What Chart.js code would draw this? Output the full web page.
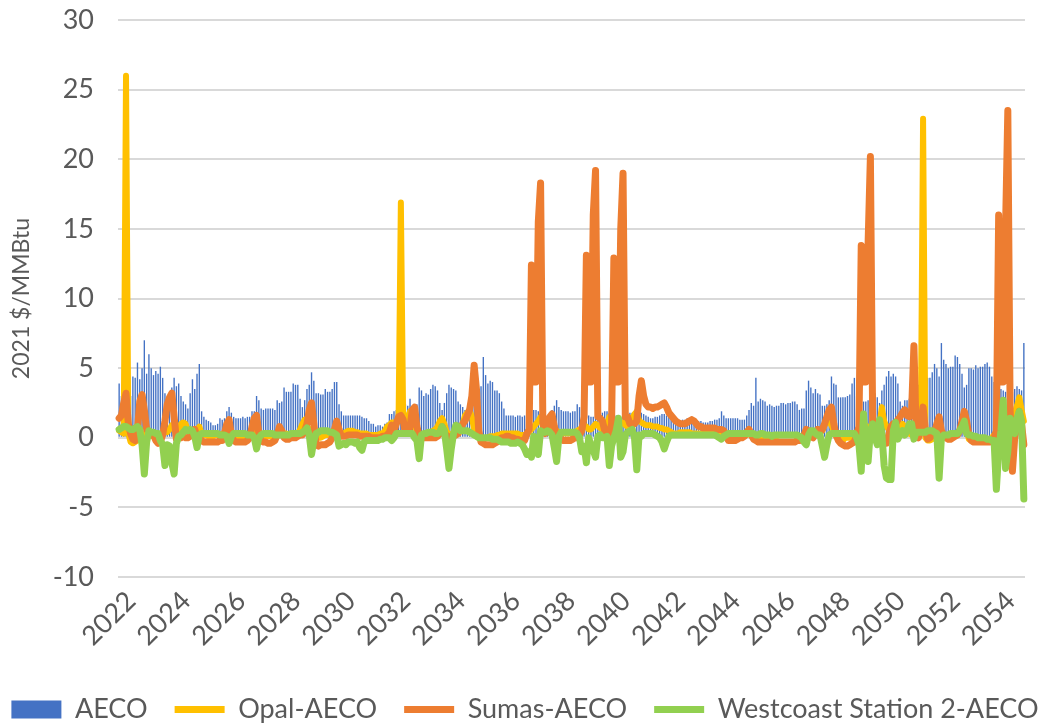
<!DOCTYPE html>
<html>
<head>
<meta charset="utf-8">
<title>AECO basis</title>
<script src="https://cdn.jsdelivr.net/npm/chart.js"></script>
<style>
  html, body { margin: 0; padding: 0; background: #fff; width: 1050px; height: 725px; overflow: hidden; }
  /* canvas is wider than the page so the one-row legend has room; it is pulled left by SIDE */
  canvas { display: block; margin-left: -60px; }
</style>
</head>
<body>
<canvas id="basisChart" width="1170" height="725"></canvas>
<script>
/* =========================
   DATA (monthly, Jan 2022 - Dec 2054)
========================= */
const years = [2022, 2023, 2024, 2025, 2026, 2027, 2028, 2029, 2030, 2031, 2032,
  2033, 2034, 2035, 2036, 2037, 2038, 2039, 2040, 2041, 2042, 2043, 2044, 2045,
  2046, 2047, 2048, 2049, 2050, 2051, 2052, 2053, 2054];
const months = ["01", "02", "03", "04", "05", "06", "07", "08", "09", "10", "11", "12"];
const tickYears = ["2022", "2024", "2026", "2028", "2030", "2032", "2034", "2036", "2038",
  "2040", "2042", "2044", "2046", "2048", "2050", "2052", "2054"];

const aeco = [
  3.9, 3.0, 2.6, 2.4, 2.6, 3.0, 4.4, 4.3, 5.4, 4.2, 5.0, 7.0,
  4.6, 6.0, 5.0, 4.5, 4.8, 4.6, 5.1, 4.3, 3.2, 2.9, 3.2, 3.6,
  4.3, 3.7, 3.9, 3.0, 2.6, 2.4, 2.1, 3.2, 4.2, 3.5, 4.6, 5.3,
  1.9, 1.5, 1.3, 1.2, 1.1, 0.9, 0.9, 1.0, 1.4, 1.3, 1.4, 1.9,
  2.2, 1.8, 1.5, 1.4, 1.4, 1.4, 1.5, 1.4, 1.5, 1.5, 1.9, 1.9,
  3.0, 2.7, 2.1, 2.0, 2.1, 2.1, 2.1, 2.1, 2.0, 2.7, 2.5, 2.6,
  3.6, 3.3, 3.3, 3.3, 3.9, 3.8, 3.8, 2.8, 2.2, 2.7, 3.5, 3.8,
  4.7, 4.1, 3.2, 3.2, 3.1, 3.1, 3.5, 3.3, 3.3, 3.5, 4.0, 4.0,
  2.4, 1.9, 1.6, 1.6, 1.6, 1.6, 1.6, 1.6, 1.6, 1.6, 1.5, 1.4,
  1.4, 1.2, 1.0, 1.0, 0.8, 0.9, 0.9, 0.8, 1.0, 1.1, 1.7, 1.7,
  1.9, 2.0, 2.0, 2.1, 2.2, 2.4, 2.3, 2.8, 2.3, 2.4, 2.4, 3.6,
  3.4, 3.0, 3.2, 3.1, 3.5, 3.8, 3.7, 3.4, 2.5, 2.0, 2.5, 3.2,
  3.8, 3.6, 3.5, 3.4, 2.6, 2.4, 2.2, 2.0, 2.0, 2.1, 2.4, 2.8,
  3.4, 3.4, 3.7, 5.8, 4.5, 3.9, 4.1, 4.0, 3.4, 3.4, 3.2, 2.6,
  2.1, 1.6, 1.6, 1.6, 1.6, 1.5, 1.6, 1.6, 1.5, 1.6, 1.7, 1.8,
  1.8, 2.0, 2.0, 1.9, 1.8, 1.8, 1.6, 1.6, 1.6, 2.0, 2.3, 2.7,
  2.2, 2.0, 1.9, 1.9, 1.9, 1.8, 1.9, 1.9, 2.4, 2.2, 2.0, 1.8,
  1.6, 1.6, 1.5, 1.5, 1.5, 1.6, 1.7, 1.8, 1.9, 1.9, 1.8, 1.7,
  1.6, 1.6, 1.5, 1.5, 1.6, 1.6, 1.7, 1.8, 1.8, 1.9, 1.9, 1.8,
  1.8, 1.7, 1.6, 1.5, 1.4, 1.4, 1.5, 1.5, 1.6, 1.7, 1.7, 1.6,
  1.5, 1.4, 1.3, 1.3, 1.3, 1.2, 1.3, 1.3, 1.4, 1.4, 1.5, 1.4,
  1.3, 1.2, 1.2, 1.1, 1.1, 1.1, 1.2, 1.2, 1.3, 1.3, 1.4, 1.9,
  1.6, 1.4, 1.4, 1.4, 1.4, 1.4, 1.4, 1.3, 1.3, 1.3, 1.6, 2.0,
  2.5, 2.3, 4.3, 2.6, 2.8, 2.7, 2.6, 2.3, 2.4, 2.3, 2.2, 2.3,
  2.3, 2.5, 2.5, 2.4, 2.5, 2.5, 2.6, 2.6, 2.4, 2.0, 2.1, 2.1,
  3.4, 4.1, 3.6, 3.2, 3.5, 3.2, 3.1, 2.3, 2.3, 2.4, 2.7, 4.4,
  3.9, 3.8, 2.9, 2.9, 2.9, 2.9, 3.0, 3.1, 3.9, 4.3, 3.0, 2.8,
  2.7, 2.6, 2.6, 2.7, 2.8, 3.0, 3.2, 2.9, 2.5, 3.4, 3.8, 4.4,
  4.8, 4.4, 4.6, 4.4, 3.9, 2.6, 2.3, 2.7, 2.7, 2.8, 3.0, 3.3,
  3.6, 3.8, 4.0, 4.1, 4.2, 4.3, 4.3, 4.7, 5.3, 5.0, 4.4, 6.8,
  5.6, 5.3, 5.0, 5.1, 5.1, 5.9, 5.8, 5.3, 4.6, 3.6, 3.8, 5.0,
  5.0, 4.9, 5.2, 5.0, 5.1, 5.1, 5.3, 5.4, 5.1, 4.4, 4.0, 3.8,
  3.6, 3.5, 3.4, 3.3, 3.2, 3.2, 3.3, 3.5, 3.7, 3.5, 3.4, 6.8
];

const opal = [
  0.5, 0.4, 0.3, 26.0, 0.3, -0.3, -0.4, -0.3, -0.2, 0.0, 0.2, 0.3,
  0.4, 0.3, 0.2, 0.1, 0.0, -0.1, 0.1, 0.3, 0.5, 0.4, 0.6, 0.9,
  0.6, 0.3, 0.4, 1.0, 1.1, 1.0, 0.5, 0.4, 0.3, 0.4, 0.6, 0.8,
  0.3, 0.2, 0.2, 0.1, 0.1, 0.1, 0.2, 0.2, 0.2, 0.3, 0.3, 0.3,
  0.4, 0.3, 0.2, 0.2, 0.1, 0.1, 0.1, 0.2, 0.2, 0.3, 0.4, 0.5,
  0.5, 0.3, 0.2, 0.1, 0.1, 0.1, 0.1, 0.1, 0.2, 0.3, 0.3, 0.3,
  0.3, 0.3, 0.2, 0.2, 0.2, 0.2, 0.3, 0.6, 1.0, 1.3, 0.9, 0.5,
  0.6, 0.4, 0.1, 0.0, 0.0, 0.1, 0.2, 0.2, 0.3, 0.4, 0.5, 0.4,
  0.4, 0.3, 0.3, 0.4, 0.5, 0.5, 0.5, 0.4, 0.4, 0.3, 0.3, 0.3,
  0.3, 0.2, 0.2, 0.2, 0.2, 0.2, 0.3, 0.3, 0.5, 0.8, 0.9, 1.1,
  1.1, 1.0, 1.3, 16.9, 1.3, 0.8, 1.5, 1.9, 1.8, 0.9, 0.4, 0.3,
  0.2, 0.3, 0.3, 0.4, 0.4, 0.5, 0.6, 0.8, 1.2, 1.4, 1.0, 0.4,
  0.3, 0.2, 0.3, 0.3, 0.5, 0.7, 1.0, 1.6, 1.8, 2.0, 1.5, 0.6,
  0.1, 0.0, -0.1, -0.1, 0.0, 0.0, 0.1, 0.1, 0.1, 0.2, 0.2, 0.3,
  0.3, 0.3, 0.3, 0.3, 0.3, 0.3, 0.3, 0.2, 0.2, 0.2, 0.3, 0.4,
  0.6, 0.8, 1.0, 1.2, 1.5, 1.0, 0.6, 0.5, 0.4, 0.7, 0.7, 0.5,
  0.4, 0.3, 0.3, 0.3, 0.3, 0.3, 0.4, 0.4, 0.5, 0.6, 0.7, 0.9,
  0.8, 0.6, 0.6, 0.8, 1.0, 0.9, 0.7, 0.6, 0.7, 1.0, 1.5, 1.2,
  0.9, 0.8, 0.9, 1.0, 1.1, 0.9, 0.8, 1.0, 1.4, 1.7, 1.9, 1.2,
  1.1, 1.0, 0.9, 0.9, 0.9, 0.8, 0.8, 0.8, 0.7, 0.7, 0.6, 0.6,
  0.5, 0.4, 0.3, 0.3, 0.3, 0.4, 0.4, 0.4, 0.4, 0.4, 0.3, 0.3,
  0.3, 0.3, 0.3, 0.3, 0.3, 0.3, 0.3, 0.3, 0.3, 0.3, 0.3, 0.3,
  0.2, 0.1, 0.0, 0.0, 0.1, 0.2, 0.2, 0.2, 0.2, 0.2, 0.2, 0.3,
  0.3, 0.2, 0.2, 0.1, 0.1, 0.1, 0.1, 0.0, 0.0, -0.1, -0.2, -0.2,
  -0.3, -0.3, -0.3, -0.3, -0.3, -0.3, -0.3, -0.3, -0.2, -0.2, 0.0, 0.2,
  0.3, 0.2, 0.1, 0.1, 0.2, 0.3, 0.4, 0.5, 0.9, 1.4, 1.2, 0.9,
  0.5, 0.1, 0.0, -0.1, -0.2, 0.0, 0.0, 0.0, 0.1, 0.2, 0.4, 0.5,
  0.8, 1.0, 0.9, 0.7, 0.6, 0.5, 0.6, 0.8, 1.0, 2.2, 1.2, 0.8,
  0.6, 0.5, 0.4, 0.4, 0.6, 0.9, 1.0, 0.8, 0.5, 0.3, 0.2, 0.3,
  0.2, 0.3, 0.5, 22.9, 0.0, -0.2, -0.2, -0.1, 0.0, 0.1, 0.2, 0.2,
  0.1, 0.0, -0.1, 0.0, 0.1, 0.2, 0.3, 0.6, 1.0, 1.2, 0.5, -0.1,
  -0.2, -0.3, -0.3, -0.3, -0.3, -0.3, -0.3, -0.3, -0.2, 0.0, 0.2, 0.4,
  0.5, 0.6, 0.8, 1.0, 1.2, 1.3, 1.5, 1.8, 2.3, 2.9, 2.0, 1.2
];

const sumas = [
  1.4, 1.6, 2.5, 3.2, 1.0, 0.3, -0.1, -0.2, 0.6, 2.6, 3.1, 2.0,
  0.6, 0.4, 0.2, 0.2, -0.2, -0.4, -0.3, 0.2, 1.2, 2.4, 2.9, 3.2,
  1.5, -0.1, 0.0, 0.0, 0.1, 0.0, 0.0, 0.1, 0.3, 0.6, 0.1, 0.0,
  -0.2, -0.3, -0.3, -0.3, -0.3, -0.3, -0.3, -0.3, -0.2, -0.2, 0.3, 1.0,
  1.3, 0.2, -0.2, -0.3, -0.3, -0.3, -0.3, -0.3, -0.2, 0.0, 0.8, 1.4,
  1.6, 0.3, -0.2, -0.3, -0.3, -0.4, -0.4, -0.3, -0.2, 0.2, 0.8, 0.5,
  0.0, -0.1, -0.1, 0.0, 0.0, 0.0, 0.1, 0.2, 0.2, 0.5, 1.0, 2.0,
  2.5, 1.0, -0.5, -0.6, -0.5, -0.5, -0.5, -0.4, -0.3, 0.0, 0.6, 1.2,
  0.6, 0.1, 0.1, 0.1, 0.2, 0.2, 0.2, 0.2, 0.2, 0.1, 0.1, 0.1,
  0.1, 0.1, 0.0, 0.0, 0.0, 0.0, 0.0, 0.1, 0.1, 0.2, 0.4, 0.9,
  0.5, 1.0, 1.5, 1.6, 1.3, 0.3, 0.3, 0.8, 2.0, 2.2, 0.8, 0.1,
  0.0, 0.0, 0.0, 0.0, 0.0, 0.0, 0.0, 0.1, 0.3, 0.8, 0.4, 0.1,
  0.0, 0.1, 0.1, 0.2, 0.3, 0.6, 1.0, 1.2, 1.6, 2.0, 3.0, 5.2,
  3.5, 0.5, -0.3, -0.4, -0.5, -0.5, -0.5, -0.5, -0.4, -0.3, -0.1, 0.0,
  0.0, 0.1, 0.1, 0.0, 0.0, -0.1, -0.1, -0.2, -0.2, -0.2, 0.3, 0.6,
  12.4, 4.0, 4.0, 15.5, 18.3, 1.0, 0.3, 0.8, 1.5, 1.7, 0.8, 0.1,
  0.0, -0.1, -0.2, -0.2, -0.2, -0.2, -0.1, 0.0, 0.0, 0.2, 0.5, 1.5,
  13.1, 4.0, 4.0, 16.0, 19.2, 1.5, 1.4, 1.2, 0.5, 0.2, 0.3, 1.0,
  12.9, 4.0, 4.0, 15.0, 19.0, 1.5, 1.5, 1.0, 1.0, 1.0, 1.2, 3.0,
  4.1, 3.0, 2.4, 2.2, 2.2, 2.1, 2.2, 2.2, 2.3, 2.4, 2.5, 2.2,
  1.8, 1.6, 1.4, 1.2, 1.1, 1.0, 1.0, 1.0, 1.1, 1.2, 1.3, 1.2,
  1.0, 0.8, 0.8, 0.7, 0.7, 0.7, 0.7, 0.7, 0.7, 0.6, 0.6, 0.6,
  0.5, 0.2, -0.2, -0.2, -0.2, -0.2, -0.1, 0.0, 0.0, 0.1, 0.4, 0.6,
  0.2, -0.1, -0.2, -0.3, -0.3, -0.3, -0.3, -0.3, -0.3, -0.3, -0.3, -0.3,
  -0.3, -0.3, -0.3, -0.3, -0.3, -0.3, -0.3, -0.3, -0.2, -0.2, -0.1, 0.2,
  0.6, 0.5, 0.1, 0.0, 0.3, 0.6, 0.4, 0.6, 1.0, 1.5, 2.0, 2.2,
  1.0, 0.2, -0.2, -0.4, -0.5, -0.6, -0.6, -0.5, -0.4, -0.3, 0.2, 0.8,
  13.8, 4.0, 4.0, 14.0, 20.2, 1.0, 0.5, 0.0, -0.2, -0.3, -0.4, -0.4,
  0.2, 0.8, 1.0, 1.0, 1.3, 1.5, 1.8, 2.0, 1.6, 1.5, 2.0, 6.6,
  0.3, 0.0, 1.0, 2.2, 0.5, -0.1, 0.0, 0.2, 0.4, 1.0, 1.5, 0.5,
  0.2, 0.0, -0.1, -0.1, 0.0, 0.1, 0.2, 0.5, 1.2, 1.9, 1.2, 0.2,
  -0.2, -0.3, -0.3, -0.3, -0.3, -0.3, -0.3, -0.3, -0.3, -0.2, 0.0, 0.5,
  16.0, 4.0, 4.0, 15.0, 23.5, 2.0, -2.4, 0.0, 1.0, 1.9, 1.0, -0.5
];

const westcoast = [
  0.6, 0.7, 0.8, 0.8, 0.7, 0.6, 0.6, 0.7, 0.8, 0.6, -0.5, -2.6,
  -0.3, 0.5, 0.4, 0.4, 0.3, 0.3, -0.2, -0.5, -2.0, -0.5, -0.6, -1.8,
  -2.6, -0.4, 0.1, 0.2, 0.4, 0.6, 0.5, 0.6, 0.5, 0.1, -0.7, 0.2,
  0.3, 0.3, 0.3, 0.3, 0.3, 0.3, 0.3, 0.3, 0.2, 0.2, 0.2, 0.1,
  -0.4, 0.1, 0.3, 0.3, 0.3, 0.3, 0.3, 0.3, 0.2, 0.2, 0.2, 0.0,
  -0.8, 0.0, 0.2, 0.3, 0.3, 0.3, 0.3, 0.3, 0.2, 0.2, 0.2, 0.2,
  0.2, 0.2, 0.2, 0.3, 0.3, 0.3, 0.3, 0.3, 0.4, 0.5, 0.7, 0.2,
  -1.2, -0.2, 0.3, 0.4, 0.5, 0.5, 0.5, 0.5, 0.4, 0.4, 0.3, 0.2,
  -0.6, -0.5, -0.4, -0.5, -0.3, -0.3, -0.3, -0.4, -0.3, -0.7, -0.9, -0.3,
  -0.2, -0.2, -0.2, -0.2, -0.2, -0.2, -0.1, -0.1, 0.0, 0.0, 0.0, -0.2,
  0.0, 0.3, 0.3, 0.3, 0.3, 0.3, 0.3, 0.3, 0.3, 0.0, -0.2, -1.5,
  0.2, 0.3, 0.3, 0.4, 0.4, 0.4, 0.3, 0.3, 0.4, 0.8, 0.5, -0.8,
  -2.2, -0.8, 0.3, 0.9, 0.8, 0.5, 0.5, 0.5, 0.5, 0.4, 0.3, 0.2,
  0.1, 0.0, 0.0, 0.0, 0.0, 0.0, 0.0, -0.1, -0.1, -0.1, -0.2, -0.3,
  -0.3, -0.3, -0.3, -0.4, -0.4, -0.4, -0.3, -0.4, -0.5, -0.8, -1.2, -1.0,
  -1.4, 0.1, 0.0, -1.2, 0.5, 0.4, 0.4, 0.5, 0.4, 0.2, -0.7, -1.7,
  0.1, 0.4, 0.4, 0.4, 0.4, 0.4, 0.4, 0.4, 0.3, 0.0, -1.0, -0.6,
  -1.8, 0.0, -0.5, -0.9, -1.4, 0.1, 0.2, 0.0, 0.0, 0.1, -2.0, -0.6,
  0.0, 0.5, 1.4, -1.4, -1.0, 0.2, 0.4, 0.5, 0.6, 0.0, -2.3, 0.2,
  0.1, 0.3, 0.3, 0.3, 0.3, 0.3, 0.2, 0.1, 0.0, -0.3, -0.8, -0.3,
  0.1, 0.2, 0.2, 0.2, 0.2, 0.2, 0.2, 0.2, 0.2, 0.2, 0.2, 0.2,
  0.2, 0.2, 0.2, 0.2, 0.2, 0.2, 0.2, 0.2, 0.2, 0.1, 0.0, -0.1,
  0.1, 0.2, 0.3, 0.3, 0.3, 0.3, 0.3, 0.3, 0.3, 0.3, 0.3, 0.3,
  0.3, 0.3, 0.2, 0.2, 0.3, 0.3, 0.2, 0.2, 0.2, 0.1, 0.2, 0.2,
  0.2, 0.2, 0.2, 0.2, 0.2, 0.2, 0.2, 0.2, 0.2, 0.1, 0.0, -0.3,
  -0.5, 0.2, 0.5, 0.5, 0.3, 0.2, 0.2, -0.6, -1.4, -0.5, 0.2, 0.3,
  0.3, 0.3, 0.3, 0.3, 0.3, 0.3, 0.3, 0.3, 0.3, 0.3, 0.0, -0.5,
  -2.4, 1.7, -0.5, -1.7, 0.5, 1.0, 0.0, -0.5, 1.3, 0.3, -2.0, -2.9,
  -3.0, -3.0, 0.5, 1.1, -0.1, 0.3, 0.5, 0.2, 0.5, 1.0, 1.0, -0.1,
  0.4, 0.4, 0.4, 0.4, 0.4, 0.5, 0.5, 0.5, 0.4, 0.3, -2.9, 0.0,
  0.2, 0.2, 0.2, 0.3, 0.3, 0.3, 0.3, 0.5, 0.8, 1.2, 0.3, 0.2,
  0.2, 0.1, 0.1, 0.0, 0.0, 0.0, 0.0, -0.1, -0.1, -0.2, -0.2, -3.7,
  -1.0, 0.5, 2.7, -2.2, -1.0, 1.4, 0.5, 0.3, 1.4, 1.9, 1.2, -4.4
];

/* =========================
   SETUP
========================= */
const labels = [];
years.forEach(y => months.forEach(m => labels.push(y + "-" + m)));

const FONT = "Lato, 'Open Sans', sans-serif";
const TEXT = "#595959";
Chart.defaults.font.family = FONT;
Chart.defaults.color = TEXT;

// hidden canvas margin on each side (matches the CSS margin-left above)
const SIDE = 60;

function lineSeries(label, data, color, width, order) {
  return {
    type: "line",
    label,
    data,
    borderColor: color,
    backgroundColor: color,
    borderWidth: width,
    borderJoinStyle: "round",
    borderCapStyle: "round",
    pointRadius: 0,
    pointHoverRadius: 0,
    tension: 0,
    order
  };
}

/* =========================
   CHART
========================= */
const ctx = document.getElementById("basisChart").getContext("2d");

new Chart(ctx, {
  data: {
    labels,
    datasets: [
      {
        type: "bar",
        label: "AECO",
        data: aeco,
        backgroundColor: "#4472C4",
        barPercentage: 0.6,
        categoryPercentage: 1,
        order: 4
      },
      lineSeries("Opal-AECO", opal, "#FFC000", 6, 3),
      lineSeries("Sumas-AECO", sumas, "#ED7D31", 7, 2),
      lineSeries("Westcoast Station 2-AECO", westcoast, "#92D050", 7, 1)
    ]
  },
  options: {
    responsive: false,
    animation: false,
    devicePixelRatio: 1,
    layout: { padding: { top: 20, left: 0, right: 0, bottom: -8 } },
    plugins: {
      tooltip: { enabled: false },
      legend: {
        position: "bottom",
        labels: {
          usePointStyle: true,
          pointStyleWidth: 50,
          boxHeight: 18,
          padding: 27,
          color: TEXT,
          font: { size: 27 },
          generateLabels(chart) {
            return chart.data.datasets.map((ds, i) => {
              const isBar = ds.type === "bar";
              return {
                text: ds.label,
                datasetIndex: i,
                fillStyle: isBar ? ds.backgroundColor : ds.borderColor,
                strokeStyle: isBar ? ds.backgroundColor : ds.borderColor,
                lineWidth: isBar ? 0 : 7,
                lineCap: "butt",
                pointStyle: isBar ? "rect" : "line",
                fontColor: TEXT,
                hidden: false
              };
            });
          }
        }
      }
    },
    scales: {
      x: {
        grid: { display: false, drawTicks: false },
        border: { display: false },
        ticks: {
          autoSkip: false,
          minRotation: 45,
          maxRotation: 45,
          padding: 8,
          labelOffset: 12,
          color: TEXT,
          font: { size: 27 },
          callback: (value, index) => (index % 24 === 0 ? tickYears[index / 24] : "")
        },
        afterFit(scale) { scale.height = 92; }
      },
      y: {
        min: -10,
        max: 30,
        ticks: { stepSize: 5, padding: 24, color: TEXT, font: { size: 27 } },
        grid: { color: "#d9d9d9", lineWidth: 2, drawTicks: false },
        border: { display: false },
        title: {
          display: true,
          text: "2021 $/MMBtu",
          color: TEXT,
          font: { size: 23 },
          padding: { top: SIDE + 8, bottom: 0 }
        },
        afterFit(scale) {
          scale.width = 118 + SIDE;
          // tick labels may overhang the plot; no extra room needed above/below
          scale.paddingTop = 0;
          scale.paddingBottom = 0;
        }
      },
      // empty right-hand axis, only keeps a margin after the plot
      gap: {
        type: "linear",
        position: "right",
        grid: { display: false, drawTicks: false },
        border: { display: false },
        ticks: { display: false },
        afterFit(scale) { scale.width = 25 + SIDE; }
      }
    }
  }
});
</script>
</body>
</html>
